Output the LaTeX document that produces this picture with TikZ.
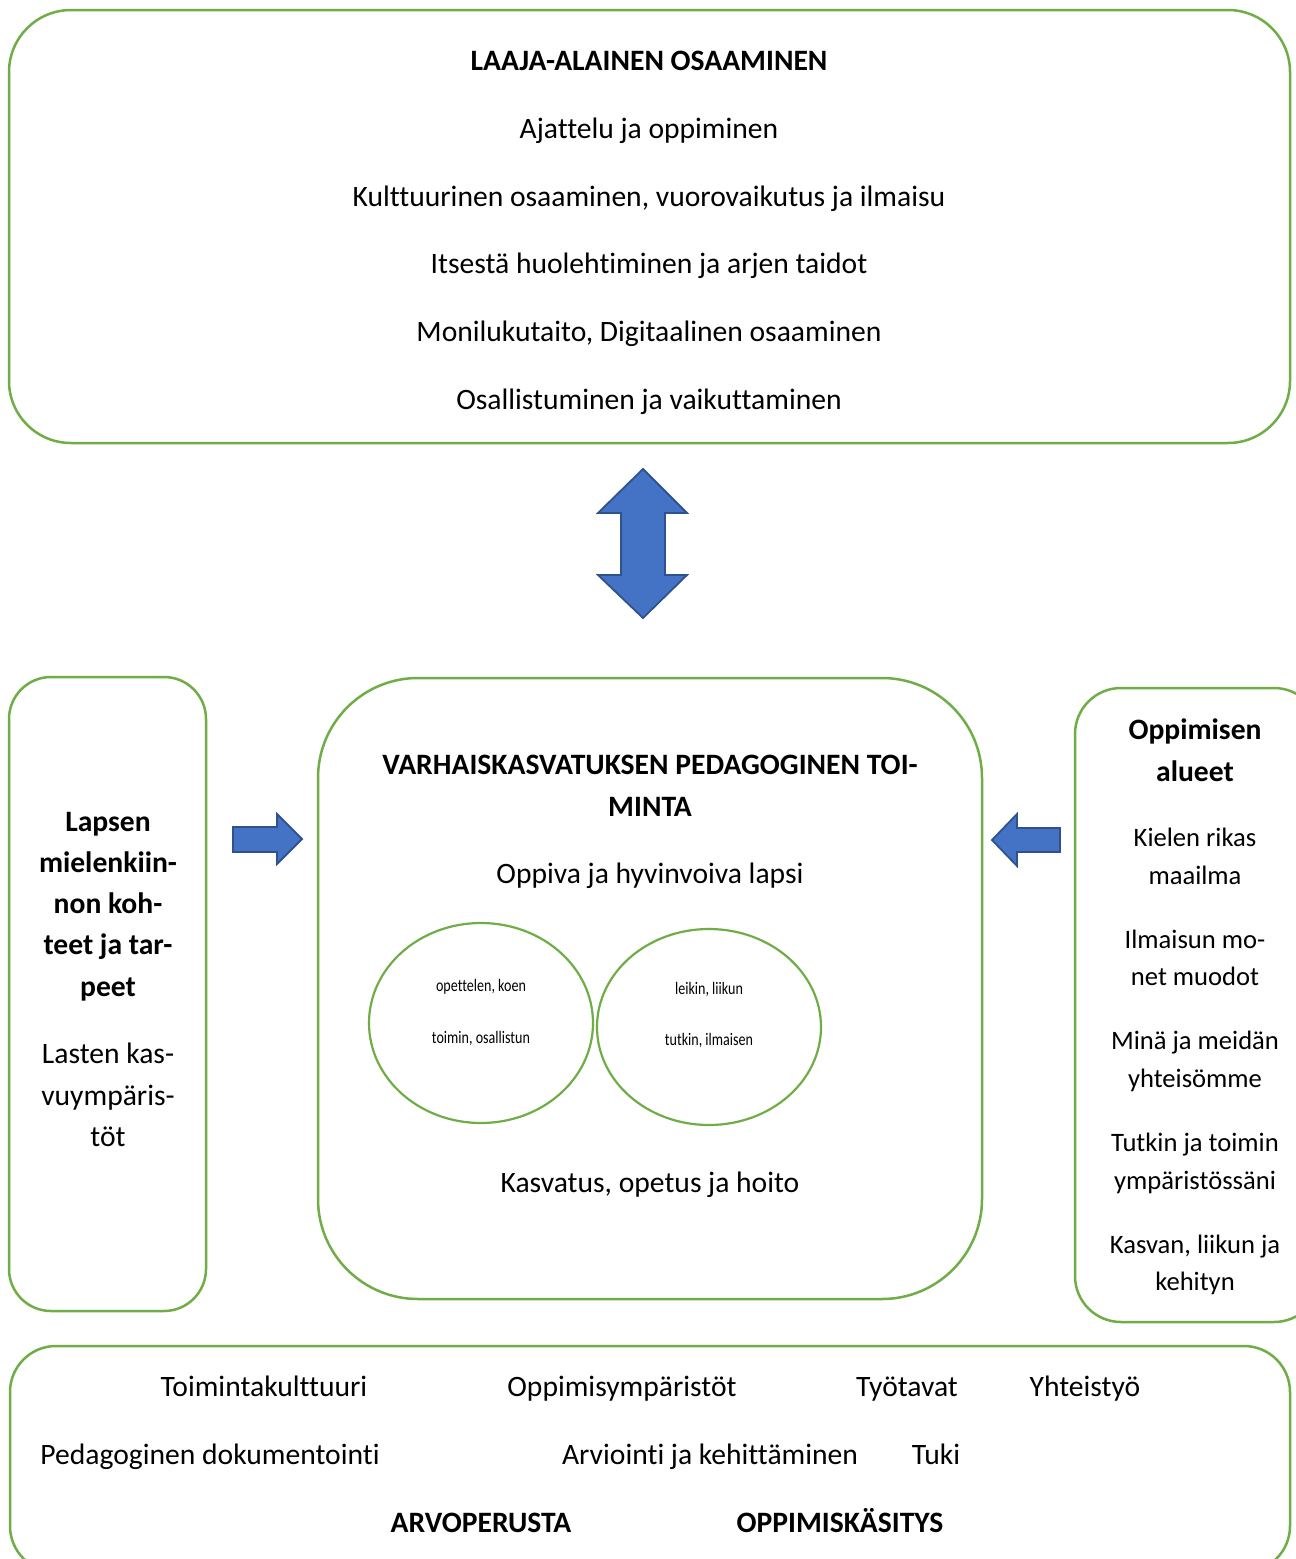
\documentclass[tikz,border=0pt]{standalone}
\usepackage{fontspec}
\setmainfont{Carlito}[Ligatures=NoCommon]
\definecolor{grn}{HTML}{70AD47}
\definecolor{blu}{HTML}{4472C4}
\definecolor{bluD}{HTML}{2F528F}
\begin{document}
\begin{tikzpicture}[x=1pt,y=-1pt,
  frame/.style={draw=grn, line width=2.5pt},
  bluearrow/.style={fill=blu, draw=bluD, line width=1.8pt, line join=miter},
  txt/.style={font=\fontsize{29.6}{35}\selectfont, inner sep=0pt, text height=19pt, text depth=0pt},
  btxt/.style={txt, font=\fontsize{29.6}{35}\selectfont\bfseries},
  rtxt/.style={txt, font=\fontsize{26.6}{32}\selectfont, text height=17pt},
  small/.style={inner sep=0pt, text height=12pt, text depth=0pt, font=\fontsize{17.6}{21}\selectfont}
]
\useasboundingbox (0,0) rectangle (1296,1559);
\clip (0,0) rectangle (1296,1559);
\fill[white] (0,0) rectangle (1296,1559);

% top box
\draw[frame, rounded corners=62pt] (9,10) rectangle (1290,443);
\node[btxt] (t0) at (649,61) {LAAJA-ALAINEN OSAAMINEN};
\node[txt] (t1) at (649,129) {Ajattelu ja oppiminen};
\node[txt] (t2) at (649,197) {Kulttuurinen osaaminen, vuorovaikutus ja ilmaisu};
\node[txt] (t3) at (649,264) {Itsestä huolehtiminen ja arjen taidot};
\node[txt] (t4) at (649,332) {Monilukutaito, Digitaalinen osaaminen};
\node[txt] (t5) at (649,400) {Osallistuminen ja vaikuttaminen};

% double arrow
\draw[bluearrow] (643,469) -- (687,513) -- (665,513) -- (665,575) -- (687,575)
  -- (643,618) -- (598,575) -- (621,575) -- (621,513) -- (598,513) -- cycle;

% left box
\draw[frame, rounded corners=42pt] (9,677) rectangle (206,1311);
\node[btxt] (l1) at (108,822) {Lapsen};
\node[btxt] (l2) at (108,863) {mielenkiin-};
\node[btxt] (l3) at (108,904) {non koh-};
\node[btxt] (l4) at (108,945) {teet ja tar-};
\node[btxt] (l5) at (108,987) {peet};
\node[txt] (l6) at (108,1054) {Lasten kas-};
\node[txt] (l7) at (108,1096) {vuympäris-};
\node[txt] (l8) at (108,1137) {töt};

% right-pointing arrow
\draw[bluearrow] (233,827) -- (277,827) -- (277,814) -- (302,839) -- (277,864)
  -- (277,852) -- (233,852) -- cycle;

% centre box
\draw[frame, rounded corners=100pt] (318,678) rectangle (982,1299);
\node[btxt] (c1) at (650,765) {VARHAISKASVATUKSEN PEDAGOGINEN TOI-};
\node[btxt] (c2) at (650,807) {MINTA};
\node[txt] (c3) at (650,874) {Oppiva ja hyvinvoiva lapsi};
\node[txt] (c4) at (650,1183) {Kasvatus, opetus ja hoito};

\draw[grn, line width=2.2pt] (481,1023) ellipse [x radius=112, y radius=100];
\draw[grn, line width=2.2pt] (709,1027) ellipse [x radius=112, y radius=98];
\node[small] (e1) at (481,985) {\scalebox{0.8}[1]{opettelen, koen}};
\node[small] (e2) at (481,1037) {\scalebox{0.8}[1]{toimin, osallistun}};
\node[small] (e3) at (709,988) {\scalebox{0.8}[1]{leikin, liikun}};
\node[small] (e4) at (709,1039) {\scalebox{0.8}[1]{tutkin, ilmaisen}};

% left-pointing arrow
\draw[bluearrow] (1060,828) -- (1017,828) -- (1017,814) -- (992,840) -- (1017,866)
  -- (1017,852) -- (1060,852) -- cycle;

% right box
\draw[frame, rounded corners=46pt] (1075,688) rectangle (1320,1322);
\node[btxt] (r1) at (1195,730) {Oppimisen};
\node[btxt] (r2) at (1195,772) {alueet};
\node[rtxt] (r3) at (1195,838) {Kielen rikas};
\node[rtxt] (r4) at (1195,876) {maailma};
\node[rtxt] (r5) at (1195,940) {Ilmaisun mo-};
\node[rtxt] (r6) at (1195,977) {net muodot};
\node[rtxt] (r7) at (1195,1041) {Minä ja meidän};
\node[rtxt] (r8) at (1195,1079) {yhteisömme};
\node[rtxt] (r9) at (1195,1143) {Tutkin ja toimin};
\node[rtxt] (r10) at (1195,1181) {ympäristössäni};
\node[rtxt] (r11) at (1195,1245) {Kasvan, liikun ja};
\node[rtxt] (r12) at (1195,1282) {kehityn};

% bottom box
\draw[frame, rounded corners=46pt] (10,1346) rectangle (1290,1572);
\node[txt] (b1) at (264,1387) {Toimintakulttuuri};
\node[txt] (b2) at (622,1387) {Oppimisympäristöt};
\node[txt] (b3) at (907,1387) {Työtavat};
\node[txt] (b4) at (1085,1387) {Yhteistyö};
\node[txt] (b5) at (210,1455) {Pedagoginen dokumentointi};
\node[txt] (b6) at (710,1455) {Arviointi ja kehittäminen};
\node[txt] (b7) at (936,1455) {Tuki};
\node[btxt] (b8) at (481,1523) {ARVOPERUSTA};
\node[btxt] (b9) at (840,1523) {OPPIMISKÄSITYS};
\end{tikzpicture}
\end{document}
